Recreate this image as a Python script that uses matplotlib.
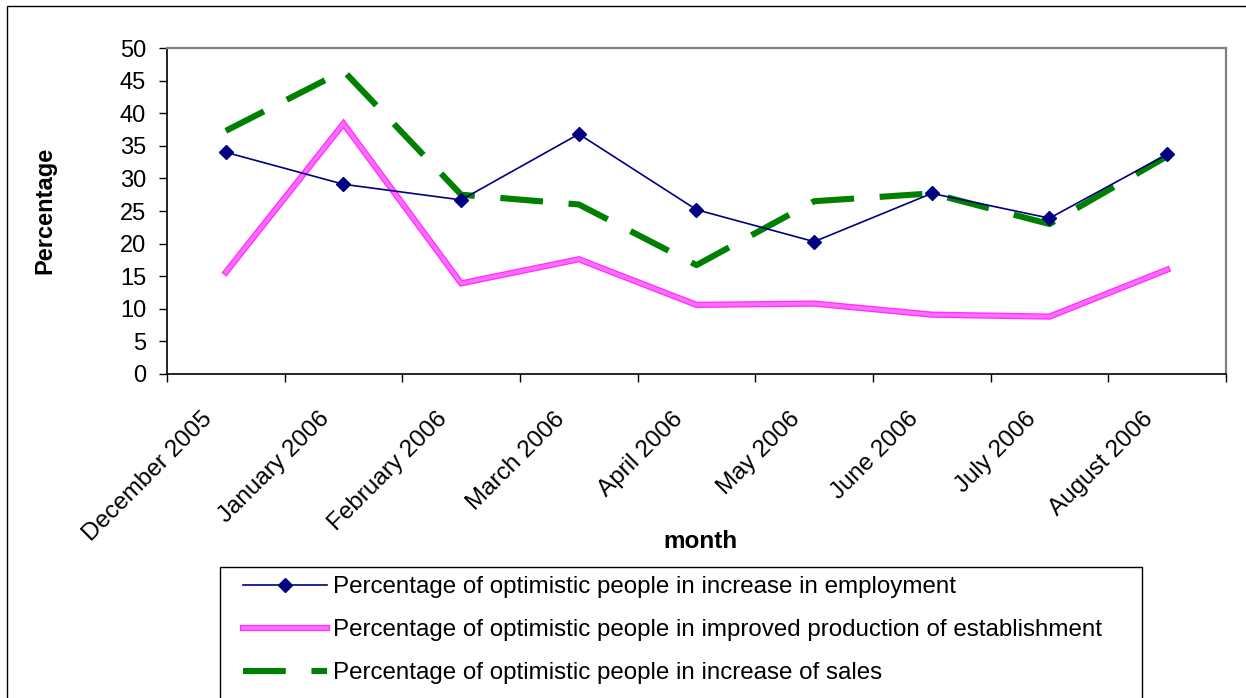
import matplotlib
matplotlib.use("Agg")
import matplotlib.pyplot as plt
import matplotlib.patheffects as pe
from matplotlib.patches import Rectangle
from matplotlib.transforms import ScaledTranslation
import numpy as np

months = ['December 2005', 'January 2006', 'February 2006', 'March 2006',
          'April 2006', 'May 2006', 'June 2006', 'July 2006', 'August 2006']
employment = [34.0, 29.1, 26.7, 36.8, 25.2, 20.3, 27.7, 23.9, 33.7]
production = [15.6, 38.4, 13.9, 17.6, 10.6, 10.8, 9.1, 8.8, 16.0]
sales = [37.3, 46.5, 27.5, 26.0, 16.7, 26.5, 27.7, 23.0, 33.4]
labels = ['Percentage of optimistic people in increase in employment',
          'Percentage of optimistic people in improved production of establishment',
          'Percentage of optimistic people in increase of sales']
y_ticks = [0, 5, 10, 15, 20, 25, 30, 35, 40, 45, 50]

plt.rcParams['font.family'] = ['Liberation Sans', 'DejaVu Sans']

W, H = 1246, 698
fig = plt.figure(figsize=(W / 100, H / 100), dpi=100)
fig.patch.set_facecolor('white')

# outer chart border (right/bottom outside image)
fig.add_artist(Rectangle((7 / W, -0.2), 2.0, 1 - 6 / H + 0.2, transform=fig.transFigure,
                         fill=False, edgecolor='black', linewidth=1.0))

ax = fig.add_axes([167 / W, 1 - 374 / H, (1226 - 167) / W, (374 - 48) / H])
x = np.arange(len(months))

l1, = ax.plot(x, employment, color='#000080', linewidth=1.2, marker='D',
              markersize=7, markerfacecolor='#000080', markeredgecolor='#000080',
              label=labels[0], zorder=4)
l2, = ax.plot(x, production, color='#ff6cff', linewidth=2.6, label=labels[1],
              solid_joinstyle='miter', zorder=2,
              path_effects=[pe.Stroke(linewidth=4.5, foreground='#ff30ff'), pe.Normal()])
l3, = ax.plot(x, sales, color='#008000', linewidth=4.4, linestyle=(0, (7, 4.2)),
              dash_capstyle='butt', label=labels[2], zorder=3)

ax.set_xlim(-0.5, len(months) - 0.5)
ax.set_ylim(0, 50)
ax.set_yticks(y_ticks)
ax.set_xticks(np.arange(-0.5, len(months), 1.0))
ax.set_xticklabels([])
ax.set_xticks(x, minor=True)
ax.set_xticklabels(months, minor=True, rotation=45, ha='right', va='center',
                   rotation_mode='anchor', fontsize=17.5)
ax.tick_params(axis='x', which='minor', length=0, pad=30)
ax.tick_params(axis='x', which='major', length=6, width=1, direction='out', color='black')
ax.tick_params(axis='y', length=6, width=1, direction='out', pad=9, labelsize=17, color='black')
for lab in ax.get_xticklabels(minor=True):
    lab.set_transform(lab.get_transform() + ScaledTranslation(-0.17, 0, fig.dpi_scale_trans))

for s in ['left', 'bottom']:
    ax.spines[s].set_color('black')
    ax.spines[s].set_linewidth(1.2)
for s in ['top', 'right']:
    ax.spines[s].set_color('#808080')
    ax.spines[s].set_linewidth(1.6)

fig.text(45 / W, 1 - 210 / H, 'Percentage', rotation=90, ha='center', va='center',
         fontsize=17, fontweight='bold')
fig.text(700 / W, 1 - 542 / H, 'month', ha='center', va='center',
         fontsize=17.5, fontweight='bold')

# legend box
fig.add_artist(Rectangle((220 / W, -0.2), (1142 - 220) / W, 0.2 + 1 - 567 / H,
                         transform=fig.transFigure, fill=False, edgecolor='black', linewidth=1.0))
leg = fig.legend(handles=[l1, l2, l3], loc='upper left',
                 bbox_to_anchor=(243 / W, 1 - 576.5 / H), frameon=False,
                 fontsize=17.4, handlelength=3.47, handletextpad=0.25,
                 labelspacing=0.86, borderpad=0, borderaxespad=0)

fig.savefig('out.png', dpi=100, facecolor='white')
